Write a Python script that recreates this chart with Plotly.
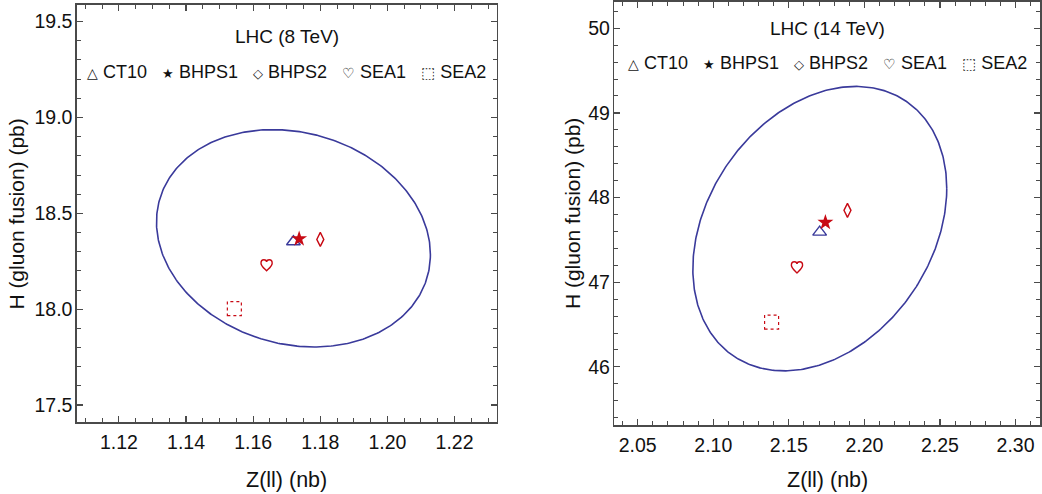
import numpy as np
import plotly.graph_objects as go

# ---------------- data ----------------
models = ["CT10", "BHPS1", "BHPS2", "SEA1", "SEA2"]
legend_glyphs = ["△", "★", "◇", "♡", "⬚"]
panel_titles = ["LHC (8 TeV)", "LHC (14 TeV)"]

# LHC 8 TeV : Z(ll) [nb], H(gluon fusion) [pb]
z8 = [1.1720, 1.1737, 1.1800, 1.1640, 1.1544]
h8 = [18.352, 18.367, 18.364, 18.229, 18.003]
# LHC 14 TeV
z14 = [2.1704, 2.1742, 2.1888, 2.1554, 2.1386]
h14 = [47.592, 47.706, 47.849, 47.175, 46.529]

# CT10 error ellipses: centre, half extents, x-y phase correlation
ell8_center = (1.1720, 18.370)
ell8_half = (0.0408, 0.567)
ell8_rho = -0.15
ell14_center = (2.1705, 47.633)
ell14_half = (0.0840, 1.680)
ell14_rho = 0.283

# axis settings
x8_range = [1.1075, 1.2325]
y8_range = [17.41, 19.587]
x14_range = [2.0346, 2.3162]
y14_range = [45.31, 50.31]

BLUE = "rgb(58,58,155)"
RED = "rgb(200,10,20)"
AXC = "#4a4a4a"
FONT = "Liberation Sans, Arial, sans-serif"

# heart outline (marker glyph, pixel units relative to the data point, y up)
HEART_PATH = ("M 0,-5.5 C -3,-2.6 -5.6,-0.6 -5.6,2.1 C -5.6,4.4 -4,5.6 -2.7,5.6 "
              "C -1.2,5.6 0,4.6 0,3.4 C 0,4.6 1.2,5.6 2.7,5.6 "
              "C 4,5.6 5.6,4.4 5.6,2.1 C 5.6,-0.6 3,-2.6 0,-5.5 Z")


def ellipse(center, half, rho, n=400):
    t = np.linspace(0, 2 * np.pi, n)
    phi = np.arccos(rho)
    x = center[0] + half[0] * np.cos(t)
    y = center[1] + half[1] * np.cos(t - phi)
    return x, y


fig = go.Figure()

panels = [
    dict(xa="x", ya="y", z=z8, h=h8, ell=(ell8_center, ell8_half, ell8_rho)),
    dict(xa="x2", ya="y2", z=z14, h=h14, ell=(ell14_center, ell14_half, ell14_rho)),
]

for p in panels:
    ex, ey = ellipse(*p["ell"])
    fig.add_trace(go.Scatter(x=ex, y=ey, mode="lines", xaxis=p["xa"], yaxis=p["ya"],
                             line=dict(color=BLUE, width=1.6), showlegend=False,
                             hoverinfo="skip"))
    # CT10 triangle
    fig.add_trace(go.Scatter(x=[p["z"][0]], y=[p["h"][0]], mode="markers",
                             xaxis=p["xa"], yaxis=p["ya"], showlegend=False,
                             marker=dict(symbol="triangle-up-open", size=12,
                                         color=BLUE, line=dict(width=1.4, color=BLUE))))
    # BHPS1 star
    fig.add_trace(go.Scatter(x=[p["z"][1]], y=[p["h"][1]], mode="markers",
                             xaxis=p["xa"], yaxis=p["ya"], showlegend=False,
                             marker=dict(symbol="star", size=12, color=RED,
                                         line=dict(width=0))))
    # BHPS2 diamond
    fig.add_trace(go.Scatter(x=[p["z"][2]], y=[p["h"][2]], mode="markers",
                             xaxis=p["xa"], yaxis=p["ya"], showlegend=False,
                             marker=dict(symbol="diamond-tall-open", size=10, color=RED,
                                         line=dict(width=1.4, color=RED))))
    # SEA1 heart (pixel-sized path anchored at the data point)
    fig.add_shape(type="path", xref=p["xa"], yref=p["ya"],
                  xsizemode="pixel", ysizemode="pixel",
                  xanchor=p["z"][3], yanchor=p["h"][3], path=HEART_PATH,
                  line=dict(color=RED, width=1.4))
    # SEA2 dashed square (pixel-sized shape anchored at the data point)
    fig.add_shape(type="rect", xref=p["xa"], yref=p["ya"],
                  xsizemode="pixel", ysizemode="pixel",
                  xanchor=p["z"][4], yanchor=p["h"][4],
                  x0=-7, x1=7, y0=-7, y1=7,
                  line=dict(color=RED, width=1.2, dash="dot"))

axis_common = dict(showline=True, linecolor=AXC, linewidth=1.6, mirror="allticks",
                   ticks="inside", ticklen=6, tickwidth=1.2, tickcolor=AXC,
                   showgrid=False, zeroline=False,
                   tickfont=dict(family=FONT, size=19.5, color="#111"))

fig.update_layout(
    width=1042, height=494,
    margin=dict(l=0, r=0, t=0, b=0),
    plot_bgcolor="white", paper_bgcolor="white",
    showlegend=False,
    font=dict(family=FONT, color="#111"),
    xaxis=dict(domain=[77 / 1042, 497 / 1042], range=x8_range, anchor="y",
               tick0=1.12, dtick=0.02, tickformat=".2f", ticklabelstandoff=2,
               minor=dict(dtick=0.005, tick0=1.12, ticks="inside", ticklen=4,
                          tickcolor=AXC, tickwidth=1, showgrid=False),
               **axis_common),
    yaxis=dict(domain=[1 - 422 / 494, 1 - 3 / 494], range=y8_range, anchor="x",
               tick0=17.5, dtick=0.5, tickformat=".1f", ticklabelstandoff=-1,
               minor=dict(dtick=0.1, tick0=17.5, ticks="inside", ticklen=4,
                          tickcolor=AXC, tickwidth=1, showgrid=False),
               **axis_common),
    xaxis2=dict(domain=[615 / 1042, 1041 / 1042], range=x14_range, anchor="y2",
                tick0=2.05, dtick=0.05, tickformat=".2f", ticklabelstandoff=2,
                minor=dict(dtick=0.01, tick0=2.05, ticks="inside", ticklen=4,
                           tickcolor=AXC, tickwidth=1, showgrid=False),
                **axis_common),
    yaxis2=dict(domain=[1 - 425 / 494, 1.0], range=y14_range, anchor="x2",
                tick0=46, dtick=1, tickformat="d", ticklabelstandoff=-1,
                minor=dict(dtick=0.2, tick0=46, ticks="inside", ticklen=4,
                           tickcolor=AXC, tickwidth=1, showgrid=False),
                **axis_common),
)

# legend rows and panel titles (text)
sym_sizes = [14, 13, 13, 14, 15]
legend_text = "   ".join(
    f"<span style='font-size:{s}px'>{g}</span> {m}"
    for g, m, s in zip(legend_glyphs, models, sym_sizes))

layout_text = [
    # (xref, yref, title_y, legend_y)
    ("x domain", "y domain", 1 - 32 / 419, 1 - 67 / 419),
    ("x2 domain", "y2 domain", 1 - 27 / 425, 1 - 61 / 425),
]
for title, (xr, yr, ty, ly) in zip(panel_titles, layout_text):
    fig.add_annotation(text=title, xref=xr, yref=yr, x=0.5, y=ty, showarrow=False,
                       xanchor="center", yanchor="middle",
                       font=dict(size=19, family=FONT, color="#111"))
    fig.add_annotation(text=legend_text, xref=xr, yref=yr, x=0.5, y=ly, showarrow=False,
                       xanchor="center", yanchor="middle",
                       font=dict(size=18, family=FONT, color="#111"))

# axis titles
for xr in ["x domain", "x2 domain"]:
    fig.add_annotation(text="Z(ll) (nb)", xref=xr, yref="paper", x=0.5, y=1 - 480 / 494,
                       showarrow=False, xanchor="center", yanchor="middle",
                       font=dict(size=21.5, family=FONT, color="#111"))
fig.add_annotation(text="H (gluon fusion) (pb)", xref="paper", yref="y domain",
                   x=17 / 1042, y=0.5, textangle=-90, showarrow=False,
                   xanchor="center", yanchor="middle",
                   font=dict(size=21, family=FONT, color="#111"))
fig.add_annotation(text="H (gluon fusion) (pb)", xref="paper", yref="y2 domain",
                   x=573 / 1042, y=0.5, textangle=-90, showarrow=False,
                   xanchor="center", yanchor="middle",
                   font=dict(size=21, family=FONT, color="#111"))

fig.write_html("out.html",
               config={"displayModeBar": False, "staticPlot": True},
               post_script="document.body.style.margin='0';"
                           "document.body.style.overflow='hidden';")
